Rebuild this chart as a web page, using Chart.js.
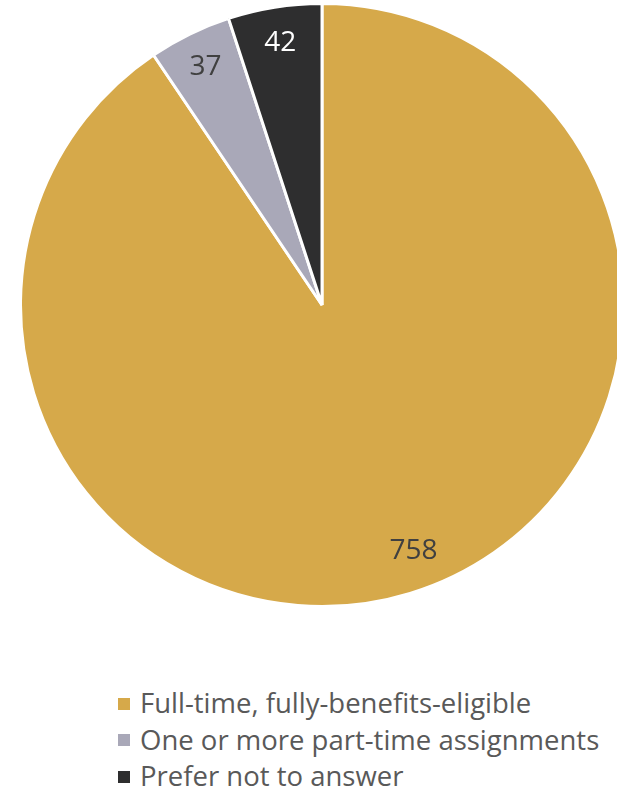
<!DOCTYPE html>
<html>
<head>
<meta charset="utf-8">
<script src="https://cdn.jsdelivr.net/npm/chart.js@4"></script>
<style>
  html, body { margin: 0; padding: 0; background: #fff; overflow: hidden; }
  #wrap { position: relative; width: 617px; height: 791px; overflow: hidden; }
  #pie { position: absolute; left: 19px; top: 2px; width: 606px; height: 606px; }
  #legend { position: absolute; left: 118px; top: 685px; font-family: "Open Sans", sans-serif; font-size: 27.5px; color: #595959; }
  #legend .item { height: 36.5px; line-height: 36.5px; white-space: nowrap; }
  #legend .box { display: inline-block; width: 12px; height: 12px; margin-right: 10px; vertical-align: middle; position: relative; top: -2px; }
</style>
</head>
<body>
<div id="wrap">
  <div id="pie"><canvas id="chart" width="606" height="606"></canvas></div>
  <div id="legend"></div>
</div>
<script>
const categories = ['Full-time, fully-benefits-eligible', 'One or more part-time assignments', 'Prefer not to answer'];
const counts = [758, 37, 42];
const colors = ['#D6A94A', '#A9A8B8', '#2E2E2F'];
const labelColors = ['#404040', '#404040', '#ffffff'];

// value labels inside each slice
const sliceLabels = {
  id: 'sliceLabels',
  afterDatasetsDraw(chart) {
    const ctx = chart.ctx;
    const meta = chart.getDatasetMeta(0);
    ctx.save();
    ctx.font = '28px "Open Sans", sans-serif';
    ctx.textAlign = 'center';
    ctx.textBaseline = 'middle';
    meta.data.forEach((arc, i) => {
      // the big slice's label sits a little off its mid-angle
      const mid = (arc.startAngle + arc.endAngle) / 2 - (i === 0 ? 0.06 : 0);
      const r = arc.outerRadius * (i === 0 ? 0.87 : 0.88);
      ctx.fillStyle = labelColors[i];
      ctx.fillText(counts[i], arc.x + Math.cos(mid) * r, arc.y + Math.sin(mid) * r);
    });
    ctx.restore();
  }
};

new Chart(document.getElementById('chart'), {
  type: 'pie',
  data: {
    labels: categories,
    datasets: [{
      data: counts,
      backgroundColor: colors,
      borderColor: '#ffffff',
      borderWidth: 3
    }]
  },
  options: {
    responsive: false,
    animation: false,
    layout: { padding: 0 },
    plugins: {
      legend: { display: false },
      tooltip: { enabled: false }
    }
  },
  plugins: [sliceLabels]
});

const legend = document.getElementById('legend');
categories.forEach((name, i) => {
  legend.innerHTML += `<div class="item"><span class="box" style="background:${colors[i]}"></span>${name}</div>`;
});
</script>
</body>
</html>
